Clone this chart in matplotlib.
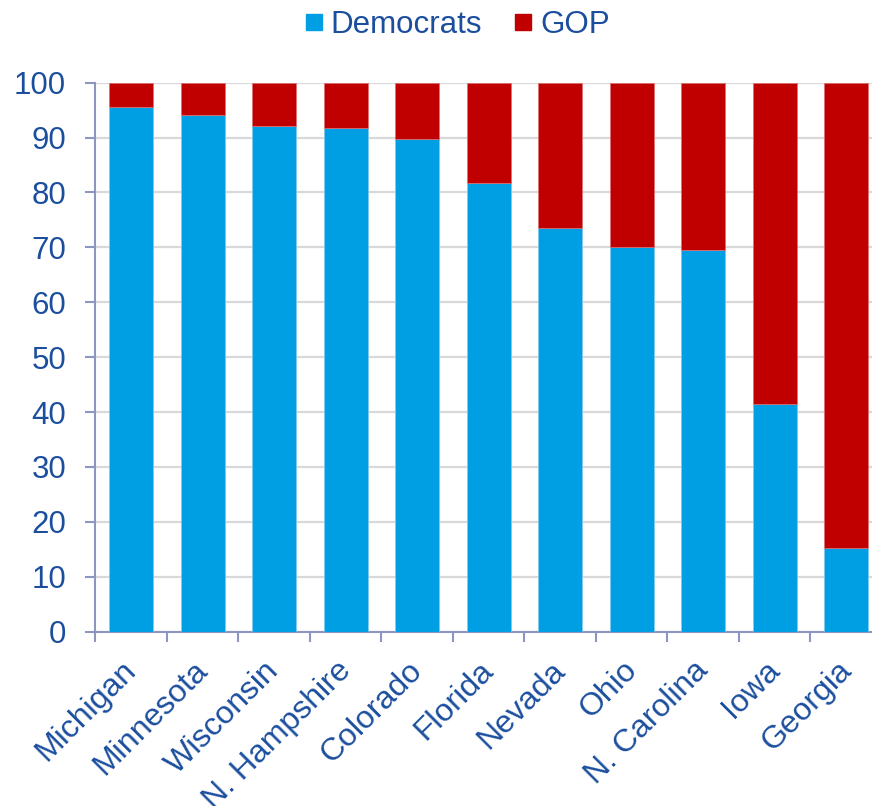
import matplotlib
matplotlib.use("Agg")
import matplotlib.pyplot as plt
from matplotlib.lines import Line2D
import matplotlib.transforms as mtransforms
import numpy as np

states = ["Michigan", "Minnesota", "Wisconsin", "N. Hampshire", "Colorado",
          "Florida", "Nevada", "Ohio", "N. Carolina", "Iowa", "Georgia"]
democrats = [95.5, 94.2, 92.1, 91.7, 89.7, 81.8, 73.6, 70.0, 69.6, 41.5, 15.2]
gop = [100 - d for d in democrats]
yticks = [0, 10, 20, 30, 40, 50, 60, 70, 80, 90, 100]

BLUE = "#009FE3"
RED = "#C00000"
TXT = "#1B4F9E"
AX = "#8C96C0"

plt.rcParams['font.family'] = ['Liberation Sans', 'DejaVu Sans']

fig = plt.figure(figsize=(8.72, 8.06), dpi=100)
ax = fig.add_axes([95.3 / 872, 0.2163, 1 - 95.3 / 872, 0.6811])

x = np.arange(len(states))
w = 0.615
ax.bar(x, democrats, width=w, color=BLUE, edgecolor="#7FCBF0", linewidth=0.5, zorder=3)
ax.bar(x, gop, bottom=democrats, width=w, color=RED, edgecolor="#E07070", linewidth=0.5, zorder=3)

ax.set_ylim(0, 100)
ax.set_xlim(-0.5, 10.36)
ax.set_yticks(yticks)
ax.yaxis.grid(True, color="#D9D9D9", linewidth=1.6, zorder=0)
ax.set_axisbelow(True)

for s in ["top", "right"]:
    ax.spines[s].set_visible(False)
for s in ["left", "bottom"]:
    ax.spines[s].set_color(AX)
    ax.spines[s].set_linewidth(1.5)

ax.tick_params(axis="y", colors=AX, labelcolor=TXT, labelsize=22.5, length=7, width=1.5, pad=14)
ax.set_xticks(x)
ax.set_xticklabels(states, rotation=45, ha="right", va="top", rotation_mode="anchor",
                   fontsize=23, color=TXT)
ax.tick_params(axis="x", which="major", length=0, pad=17)
ax.set_xticks(np.arange(-0.5, 10.5, 1.0), minor=True)
ax.tick_params(axis="x", which="minor", length=7, width=1.5, color=AX)

offset = mtransforms.ScaledTranslation(-10 / 100, 0, fig.dpi_scale_trans)
for lbl in ax.get_xticklabels():
    lbl.set_transform(lbl.get_transform() + offset)

handles = [Line2D([], [], marker="s", linestyle="", markersize=11.5, color=BLUE),
           Line2D([], [], marker="s", linestyle="", markersize=11.5, color=RED)]
leg = fig.legend(handles, ["Democrats", "GOP"], loc="center", bbox_to_anchor=(0.524, 0.969),
                 ncol=2, frameon=False, fontsize=22.5, handlelength=0.6, handletextpad=0.25,
                 columnspacing=1.0, borderpad=0)
for t in leg.get_texts():
    t.set_color(TXT)

fig.savefig("out.png", dpi=100)
